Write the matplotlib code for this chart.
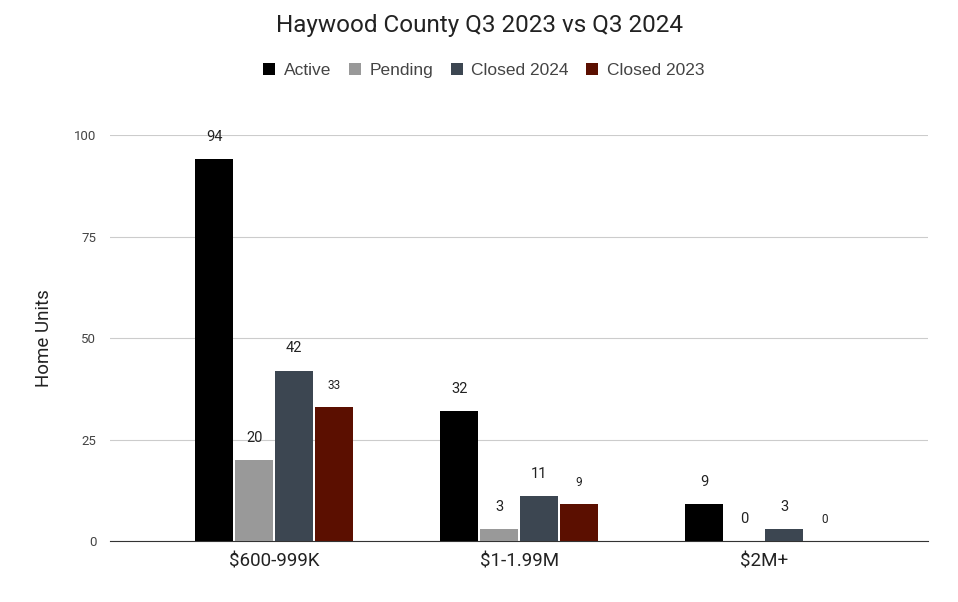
import matplotlib.pyplot as plt
import numpy as np

plt.rcParams['font.family'] = ['Roboto', 'DejaVu Sans']

# данные
categories = ['$600-999K', '$1-1.99M', '$2M+']
series = ['Active', 'Pending', 'Closed 2024', 'Closed 2023']
active = [94, 32, 9]
pending = [20, 3, 0]
closed_2024 = [42, 11, 3]
closed_2023 = [33, 9, 0]
values = [active, pending, closed_2024, closed_2023]
colors = ['#000000', '#999999', '#3c4651', '#5b0f00']
label_sizes = [10.5, 10.5, 10.5, 8.5]

fig = plt.figure(figsize=(9.58, 6.02), dpi=100)
ax = fig.add_axes([0.115, 0.1013, 0.854, 0.6744])

x = np.arange(len(categories))
width = 0.155
step = 0.163
for k, (name, vals) in enumerate(zip(series, values)):
    pos = x + (k - 1.5) * step
    ax.bar(pos, vals, width=width, color=colors[k], label=name, zorder=3)
    for p, v in zip(pos, vals):
        ax.annotate(str(v), (p, v), xytext=(0, 11), textcoords='offset points',
                    ha='center', va='bottom', fontsize=label_sizes[k], color='#222222')

ax.set_xlim(-0.669, 2.669)
ax.set_ylim(0, 100)
ax.set_yticks([0, 25, 50, 75, 100])
ax.set_xticks(x)
ax.set_xticklabels(categories, fontsize=13.5, color='#222222')
ax.tick_params(axis='y', labelsize=9.5, colors='#444444', length=0, pad=10)
ax.tick_params(axis='x', length=0, pad=8)
ax.grid(axis='y', color='#cccccc', linewidth=0.8, zorder=0)
for s in ['top', 'right', 'left']:
    ax.spines[s].set_visible(False)
ax.spines['bottom'].set_color('#333333')
ax.set_ylabel('Home Units', fontsize=13.5, color='#222222', labelpad=15)

fig.suptitle('Haywood County Q3 2023 vs Q3 2024', y=0.977, fontsize=17.5, color='#222222')
fig.legend(loc='center', bbox_to_anchor=(0.505, 0.883), ncol=4, frameon=False,
           prop={'family': 'Liberation Sans', 'size': 12.5},
           handlelength=0.7, handleheight=0.7, handletextpad=0.5,
           columnspacing=1.0, labelcolor='#444444')

plt.savefig('out.png', dpi=100)
